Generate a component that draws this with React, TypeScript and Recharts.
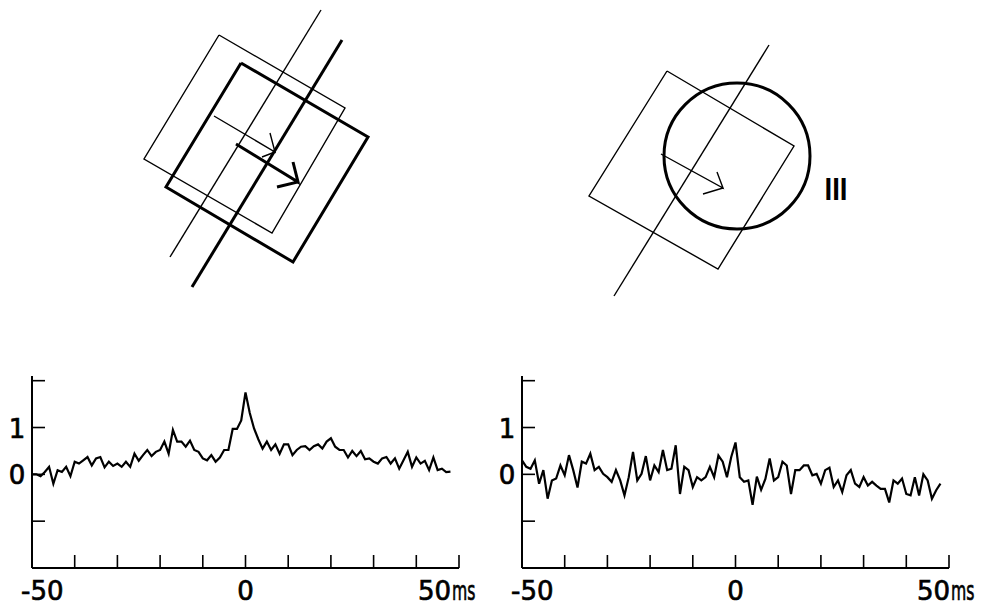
import { LineChart, Line, XAxis, YAxis, ComposedChart, ReferenceDot } from "recharts";

// lag bins of the cross-correlograms (ms)
const lags = Array.from({ length: 99 }, (_, i) => i - 50);

// left correlogram (configuration with the two bars)
const leftCorr = [
  0.0, 0.0, -0.04, 0.05, 0.16, -0.2, 0.09, 0.05, 0.16, -0.04,
  0.27, 0.23, 0.3, 0.37, 0.19, 0.34, 0.37, 0.15, 0.27, 0.18,
  0.23, 0.16, 0.27, 0.16, 0.44, 0.29, 0.41, 0.52, 0.39, 0.48,
  0.52, 0.7, 0.44, 0.95, 0.7, 0.7, 0.59, 0.72, 0.52, 0.48,
  0.34, 0.3, 0.41, 0.27, 0.36, 0.52, 0.52, 0.97, 0.97, 1.15,
  1.75, 1.31, 0.98, 0.75, 0.55, 0.7, 0.52, 0.64, 0.44, 0.64,
  0.64, 0.41, 0.52, 0.59, 0.6, 0.52, 0.6, 0.64, 0.55, 0.7,
  0.77, 0.59, 0.52, 0.52, 0.36, 0.5, 0.39, 0.5, 0.32, 0.34,
  0.27, 0.23, 0.34, 0.37, 0.23, 0.34, 0.12, 0.3, 0.48, 0.16,
  0.36, 0.23, 0.29, 0.09, 0.36, 0.09, 0.12, 0.05, 0.06,
];

// right correlogram (bar + spot, III)
const rightCorr = [
  0.3, 0.16, 0.12, 0.3, -0.2, 0.09, -0.52, -0.13, -0.09, 0.19,
  -0.02, 0.41, 0.09, -0.28, 0.27, 0.23, 0.44, 0.09, 0.16, 0.01,
  -0.06, -0.16, 0.09, -0.13, -0.45, -0.06, 0.48, -0.13, 0.01, 0.39,
  -0.13, 0.19, 0.05, 0.52, 0.09, 0.12, 0.62, -0.42, 0.16, 0.09,
  -0.27, -0.06, -0.13, -0.06, 0.16, -0.06, 0.4, 0.27, -0.06, 0.37,
  0.68, -0.06, -0.16, -0.13, -0.65, -0.05, -0.33, -0.1, 0.34, -0.13,
  -0.06, 0.27, 0.19, -0.42, 0.09, 0.09, 0.19, 0.19, -0.02, 0.01,
  -0.2, 0.09, 0.14, -0.27, -0.13, -0.38, -0.02, 0.09, -0.2, -0.27,
  -0.06, -0.24, -0.16, -0.24, -0.31, -0.31, -0.6, -0.13, -0.2, -0.09,
  -0.42, -0.45, -0.06, -0.45, 0.0, -0.13, -0.52, -0.34, -0.2,
];

const xTicks = [-50, -40, -30, -20, -10, 0, 10, 20, 30, 40, 50];
const yTicks = [-1, 0, 1, 2];
const yLabels = [0, 1];

// stimulus diagrams (page coordinates)
const thinRectA = [
  { x: 219, y: 35 }, { x: 345, y: 108 }, { x: 272, y: 233 }, { x: 144, y: 159 }, { x: 219, y: 35 },
];
const thickRectA = [
  { x: 241, y: 63 }, { x: 368, y: 137 }, { x: 293, y: 262 }, { x: 166, y: 187 }, { x: 241, y: 63 },
];
const thinBarA = [{ x: 321, y: 10 }, { x: 170, y: 257 }];
const thickBarA = [{ x: 342, y: 40 }, { x: 192, y: 287 }];
const thinArrowA = [
  { x: 214, y: 116 }, { x: 275, y: 152 }, { x: 270, y: 133 }, { x: 275, y: 152 }, { x: 262, y: 157 },
];
const thickArrowA = [
  { x: 236, y: 144 }, { x: 298, y: 182 }, { x: 293, y: 162 }, { x: 298, y: 182 }, { x: 277, y: 187 },
];
const rectB = [
  { x: 667, y: 71 }, { x: 794, y: 146 }, { x: 718, y: 269 }, { x: 589, y: 196 }, { x: 667, y: 71 },
];
const barB = [{ x: 769, y: 45 }, { x: 614, y: 296 }];
const arrowB = [
  { x: 661, y: 154 }, { x: 723, y: 188 }, { x: 717, y: 172 }, { x: 723, y: 188 }, { x: 703, y: 194 },
];
const spotB = { x: 737, y: 156, r: 73 };
const spotLabel = { x: 836, y: 189, text: "III" };

const FONT = "'DejaVu Sans', sans-serif";
const ink = { fill: "#000", stroke: "#000", strokeWidth: 0.7 };

function makeXTick(shift50: number) {
  return function XTick(props: any) {
    const { x, y, payload } = props;
    const v = payload.value;
    return (
      <g>
        <line x1={x} y1={y} x2={x} y2={y - 13} stroke="#000" strokeWidth={1.6} />
        {v === -50 && (
          <text x={x - 11} y={y + 32} fontSize={26} fontFamily={FONT} {...ink}>
            -50
          </text>
        )}
        {v === 0 && (
          <text x={x} y={y + 32} fontSize={26} fontFamily={FONT} textAnchor="middle" {...ink}>
            0
          </text>
        )}
        {v === 50 && (
          <g>
            <text x={x + shift50} y={y + 32} fontSize={26} fontFamily={FONT} {...ink}>
              50
            </text>
            {/* condensed "ms" like the original lettering */}
            <text
              transform={`translate(${x + shift50 + 34},${y + 32}) scale(0.58,1)`}
              fontSize={27}
              fontFamily={FONT}
              {...ink}
            >
              ms
            </text>
          </g>
        )}
      </g>
    );
  };
}

function YTick(props: any) {
  const { x, y, payload } = props;
  const v = payload.value;
  return (
    <g>
      <line x1={x} y1={y} x2={x + 13} y2={y} stroke="#000" strokeWidth={1.6} />
      {yLabels.includes(v) && (
        <text
          x={x - 15}
          y={y + 1}
          fontSize={26}
          fontFamily={FONT}
          textAnchor="middle"
          dominantBaseline="central"
          {...ink}
        >
          {v}
        </text>
      )}
    </g>
  );
}

function Correlogram({ values, left, shift50 }: { values: number[]; left: number; shift50: number }) {
  const data = lags.map((t, i) => ({ t, v: values[i] }));
  return (
    <div style={{ position: "absolute", left, top: 350 }}>
      <LineChart width={491} height={256} data={data} margin={{ top: 26, right: 32, bottom: 8, left: 2 }}>
        <XAxis
          dataKey="t"
          type="number"
          domain={[-50, 50]}
          ticks={xTicks}
          interval={0}
          height={30}
          tickSize={0}
          tickMargin={0}
          tickLine={false}
          axisLine={{ stroke: "#000", strokeWidth: 2 }}
          tick={makeXTick(shift50)}
        />
        <YAxis
          type="number"
          domain={[-2, 2.1]}
          ticks={yTicks}
          interval={0}
          width={30}
          tickSize={0}
          tickMargin={0}
          tickLine={false}
          allowDataOverflow
          axisLine={{ stroke: "#000", strokeWidth: 2 }}
          tick={YTick}
        />
        <Line
          dataKey="v"
          type="linear"
          stroke="#000"
          strokeWidth={2.2}
          dot={false}
          isAnimationActive={false}
        />
      </LineChart>
    </div>
  );
}

const thin = { stroke: "#000", strokeWidth: 1.4 };
const thick = { stroke: "#000", strokeWidth: 3 };

function Diagrams() {
  const shapes = [
    { key: "thinRectA", data: thinRectA, s: thin },
    { key: "thickRectA", data: thickRectA, s: thick },
    { key: "thinBarA", data: thinBarA, s: thin },
    { key: "thickBarA", data: thickBarA, s: thick },
    { key: "thinArrowA", data: thinArrowA, s: thin },
    { key: "thickArrowA", data: thickArrowA, s: thick },
    { key: "rectB", data: rectB, s: thin },
    { key: "barB", data: barB, s: thin },
    { key: "arrowB", data: arrowB, s: thin },
  ];
  return (
    <div style={{ position: "absolute", left: 0, top: 0 }}>
      <ComposedChart width={981} height={320} margin={{ top: 0, right: 0, bottom: 0, left: 0 }}>
        <XAxis dataKey="x" type="number" domain={[0, 981]} hide allowDataOverflow />
        <YAxis dataKey="y" type="number" domain={[0, 320]} reversed hide allowDataOverflow />
        {shapes.map((sh) => (
          <Line
            key={sh.key}
            data={sh.data}
            dataKey="y"
            type="linear"
            stroke={sh.s.stroke}
            strokeWidth={sh.s.strokeWidth}
            strokeLinejoin="miter"
            dot={false}
            activeDot={false}
            isAnimationActive={false}
          />
        ))}
        <ReferenceDot
          x={spotB.x}
          y={spotB.y}
          r={spotB.r}
          fill="none"
          stroke="#000"
          strokeWidth={3}
        />
        <ReferenceDot
          x={spotLabel.x}
          y={spotLabel.y}
          r={0}
          fill="none"
          stroke="none"
          label={(p: any) => {
            const vb = p.viewBox || {};
            return (
              <text
                x={vb.x ?? spotLabel.x}
                y={(vb.y ?? spotLabel.y) + 11}
                fontSize={32}
                fontWeight="bold"
                fontFamily="'Liberation Sans', sans-serif"
                fill="#000"
                textAnchor="middle"
                textLength={23}
                lengthAdjust="spacingAndGlyphs"
              >
                {spotLabel.text}
              </text>
            );
          }}
        />
      </ComposedChart>
    </div>
  );
}

export default function App() {
  return (
    <div style={{ position: "absolute", left: 0, top: 0, width: 981, height: 606, background: "#fff" }}>
      <Diagrams />
      <Correlogram values={leftCorr} left={0} shift50={-41} />
      <Correlogram values={rightCorr} left={490} shift50={-32} />
    </div>
  );
}
